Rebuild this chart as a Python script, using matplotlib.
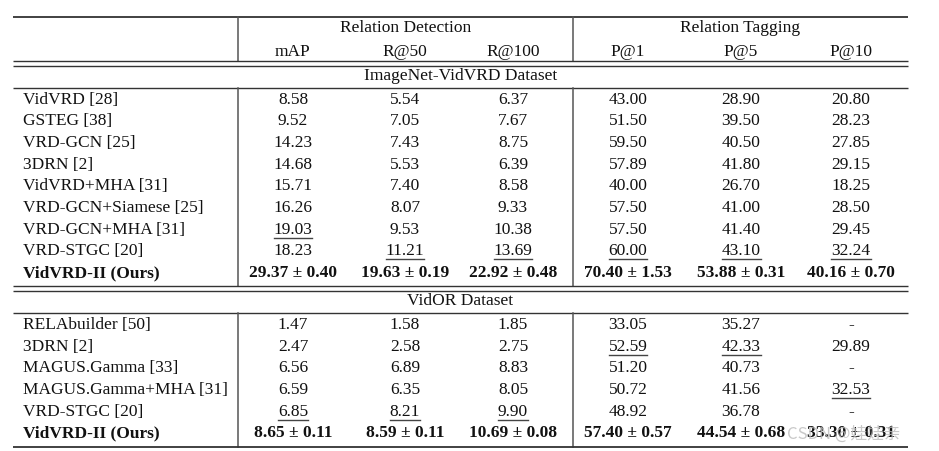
import matplotlib
matplotlib.use('Agg')
import matplotlib.pyplot as plt

# column headers
group_headers = ['Relation Detection', 'Relation Tagging']
metric_headers = ['mAP', 'R@50', 'R@100', 'P@1', 'P@5', 'P@10']

# ImageNet-VidVRD block
vidvrd_title = 'ImageNet-VidVRD Dataset'
vidvrd_methods = ['VidVRD [28]', 'GSTEG [38]', 'VRD-GCN [25]', '3DRN [2]', 'VidVRD+MHA [31]',
                  'VRD-GCN+Siamese [25]', 'VRD-GCN+MHA [31]', 'VRD-STGC [20]', 'VidVRD-II (Ours)']
vidvrd_values = [
    ['8.58', '5.54', '6.37', '43.00', '28.90', '20.80'],
    ['9.52', '7.05', '7.67', '51.50', '39.50', '28.23'],
    ['14.23', '7.43', '8.75', '59.50', '40.50', '27.85'],
    ['14.68', '5.53', '6.39', '57.89', '41.80', '29.15'],
    ['15.71', '7.40', '8.58', '40.00', '26.70', '18.25'],
    ['16.26', '8.07', '9.33', '57.50', '41.00', '28.50'],
    ['19.03', '9.53', '10.38', '57.50', '41.40', '29.45'],
    ['18.23', '11.21', '13.69', '60.00', '43.10', '32.24'],
    ['29.37 ± 0.40', '19.63 ± 0.19', '22.92 ± 0.48', '70.40 ± 1.53', '53.88 ± 0.31', '40.16 ± 0.70'],
]
# second best cells (row, col) -> underlined
vidvrd_underline = [(6, 0), (7, 1), (7, 2), (7, 3), (7, 4), (7, 5)]

# VidOR block
vidor_title = 'VidOR Dataset'
vidor_methods = ['RELAbuilder [50]', '3DRN [2]', 'MAGUS.Gamma [33]', 'MAGUS.Gamma+MHA [31]',
                 'VRD-STGC [20]', 'VidVRD-II (Ours)']
vidor_values = [
    ['1.47', '1.58', '1.85', '33.05', '35.27', '-'],
    ['2.47', '2.58', '2.75', '52.59', '42.33', '29.89'],
    ['6.56', '6.89', '8.83', '51.20', '40.73', '-'],
    ['6.59', '6.35', '8.05', '50.72', '41.56', '32.53'],
    ['6.85', '8.21', '9.90', '48.92', '36.78', '-'],
    ['8.65 ± 0.11', '8.59 ± 0.11', '10.69 ± 0.08', '57.40 ± 0.57', '44.54 ± 0.68', '33.30 ± 0.31'],
]
vidor_underline = [(1, 3), (1, 4), (3, 5), (4, 0), (4, 1), (4, 2)]

W, H = 939, 452
fig = plt.figure(figsize=(W / 100, H / 100), dpi=100)
ax = fig.add_axes([0, 0, 1, 1])
ax.set_xlim(0, W)
ax.set_ylim(H, 0)
ax.axis('off')

FONT = 'Liberation Serif'
FS = 12.5
LC = '#333333'
x_left, x_right = 13, 908
x_name = 23
v1, v2 = 238, 573
col_x = [293, 405, 513, 628, 741, 851]
row_h = 21.7

txt = dict(family=FONT, fontsize=FS, color='#111111', va='center')
underlined = []


def hline(y, lw=1.3):
    ax.plot([x_left, x_right], [y, y], color=LC, lw=lw, solid_capstyle='butt')


def vlines(y0, y1):
    for xv in (v1, v2):
        ax.plot([xv, xv], [y0, y1], color='#555555', lw=1.1)


def block(y_title, y_line, y_first, y_end, title, methods, values, under):
    ax.text((x_left + x_right) / 2, y_title, title, ha='center', **txt)
    hline(y_line, 1.0)
    vlines(y_line, y_end)
    for i, (name, row) in enumerate(zip(methods, values)):
        y = y_first + i * row_h
        bold = i == len(methods) - 1
        w = 'bold' if bold else 'normal'
        ax.text(x_name, y, name, ha='left', fontweight=w, **txt)
        for j, v in enumerate(row):
            t = ax.text(col_x[j], y, v, ha='center', fontweight=w, **txt)
            if (i, j) in under:
                underlined.append((t, y))


# header
hline(17.5)
vlines(17.5, 62)
ax.text((v1 + v2) / 2, 28, group_headers[0], ha='center', **txt)
ax.text((v2 + x_right) / 2, 28, group_headers[1], ha='center', **txt)
for cx, m in zip(col_x, metric_headers):
    ax.text(cx, 52, m, ha='center', **txt)
hline(62, 1.0)
hline(66.5, 1.0)

block(76.5, 88.5, 99.5, 287, vidvrd_title, vidvrd_methods, vidvrd_values, vidvrd_underline)
hline(287, 1.0)
hline(291.5, 1.0)
block(301.5, 313.5, 325, 447.5, vidor_title, vidor_methods, vidor_values, vidor_underline)
hline(447.5)

# underlines for second best
fig.canvas.draw()
r = fig.canvas.get_renderer()
inv = ax.transData.inverted()
for t, y in underlined:
    bb = t.get_window_extent(renderer=r)
    (xa, _), (xb, _) = inv.transform([(bb.x0, bb.y0), (bb.x1, bb.y1)])
    ax.plot([xa, xb], [y + 9, y + 9], color='#444444', lw=1.0)

# watermark
ax.text(787, 434, 'CSDN @娃娃亲', family=['Noto Sans CJK SC', 'DejaVu Sans'], fontsize=12,
        color='#bbbbbb', alpha=0.8, ha='left', va='center')

fig.savefig('out.png', dpi=100)
